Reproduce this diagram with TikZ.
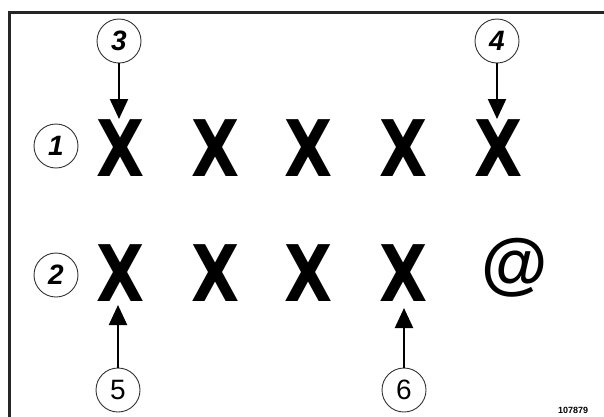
\documentclass[tikz,border=0pt]{standalone}
\usepackage{fontspec}
\setmainfont{Liberation Sans}
\newfontfamily\heavyfont{DejaVu Sans}
\usetikzlibrary{arrows.meta}
\begin{document}
\begin{tikzpicture}[x=1pt,y=-1pt,
  letter/.style={font=\fontsize{78}{78}\selectfont\heavyfont\bfseries, inner sep=0pt, xscale=0.8},
  callout/.style={circle, draw=black!80, line width=0.9pt, minimum size=44pt, inner sep=0pt, font=\fontsize{28}{28}\selectfont},
  pointer/.style={line width=2.2pt, -{Triangle[length=20pt,width=18pt]}},
  frameline/.style={line width=3pt, draw=black!85}]
\useasboundingbox (0,0) rectangle (604,416);
\fill[white] (0,0) rectangle (604,416);
\draw[frameline] (9.5,420) -- (9.5,12) -- (610,12);
% row 1
\node[letter] (a1) at (121,148) {X};
\node[letter] (a2) at (216,148) {X};
\node[letter] (a3) at (309,148) {X};
\node[letter] (a4) at (404,148) {X};
\node[letter] (a5) at (499,148) {X};
% row 2
\node[letter] (b1) at (121,273) {X};
\node[letter] (b2) at (216,273) {X};
\node[letter] (b3) at (309,273) {X};
\node[letter] (b4) at (404,273) {X};
\node[font=\fontsize{68}{68}\selectfont\bfseries, inner sep=0pt] (b5) at (515,268) {@};
% callouts
\node[callout] (c1) at (56,146) {\itshape\bfseries 1};
\node[callout] (c2) at (56,275) {\itshape\bfseries 2};
\node[callout] (c3) at (119,41) {\itshape\bfseries 3};
\node[callout] (c4) at (497,41) {\itshape\bfseries 4};
\node[callout] (c5) at (118,390) {5};
\node[callout] (c6) at (404,390) {6};
\coordinate (t3) at (119,119);
\coordinate (t4) at (497,119);
\coordinate (t5) at (118,305);
\coordinate (t6) at (404,308);
\draw[pointer] (c3) -- (t3);
\draw[pointer] (c4) -- (t4);
\draw[pointer] (c5) -- (t5);
\draw[pointer] (c6) -- (t6);
\node[font=\fontsize{9}{9}\selectfont\bfseries, anchor=base west, inner sep=0pt] (ref) at (558,413) {107879};
\end{tikzpicture}
\end{document}
